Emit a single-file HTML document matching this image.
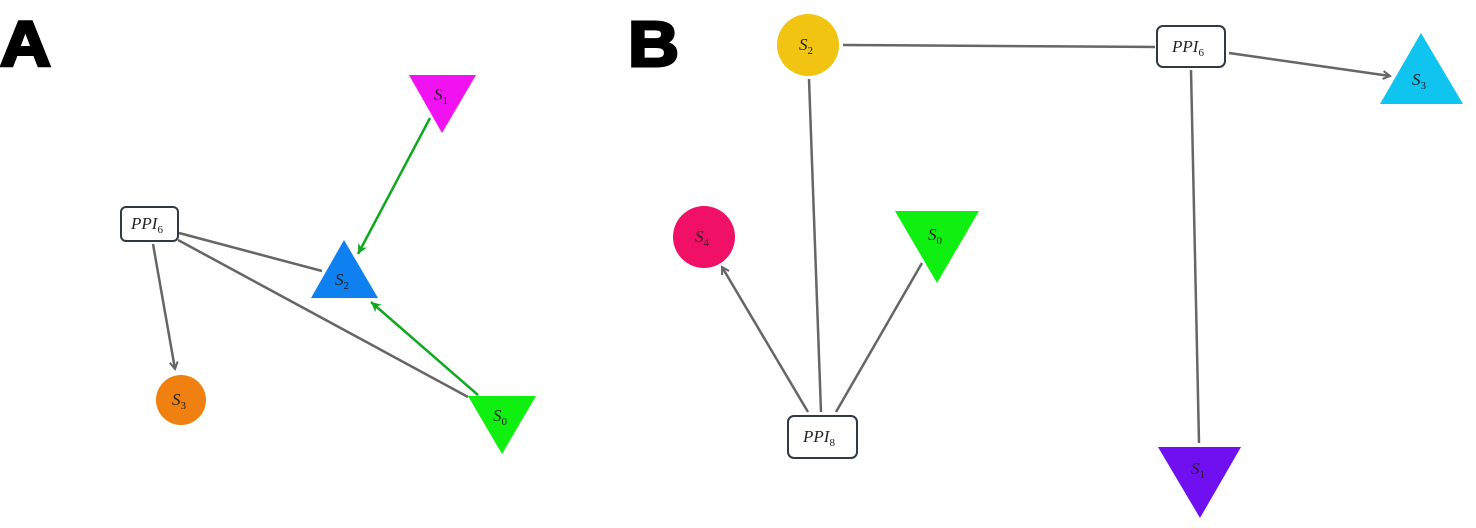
<!DOCTYPE html>
<html><head><style>body{margin:0;background:#fff}svg{display:block}
.l{font-family:"Liberation Serif",serif;font-style:italic;font-size:17px;fill:#222}
.s{font-size:11px;font-style:normal}
</style></head><body>
<svg width="1476" height="528" viewBox="0 0 1476 528" xmlns="http://www.w3.org/2000/svg">
<defs>
<marker id="ag" markerWidth="10" markerHeight="10" refX="8" refY="5" orient="auto" markerUnits="userSpaceOnUse"><path d="M1,1 L8,5 L1,9" fill="none" stroke="#666" stroke-width="2"/></marker>
<marker id="agr" markerWidth="12" markerHeight="12" refX="10" refY="6" orient="auto" markerUnits="userSpaceOnUse"><path d="M0,1 L10,6 L0,11 L3,6 Z" fill="#10a820"/></marker>
</defs>
<text x="0" y="66" transform="translate(0,0) scale(1.1,1)" font-family="Liberation Sans,sans-serif" font-weight="bold" font-size="64" stroke="#000" stroke-width="3">A</text>
<text x="571" y="66" transform="scale(1.1,1)" font-family="Liberation Sans,sans-serif" font-weight="bold" font-size="64" stroke="#000" stroke-width="3">B</text>
<g stroke="#666" stroke-width="2.5" fill="none">
<line x1="179" y1="233" x2="322" y2="271"/>
<line x1="178" y1="240" x2="468" y2="397"/>
<line x1="153" y1="244" x2="175" y2="369" marker-end="url(#ag)"/>
<line x1="843" y1="45" x2="1155" y2="47"/>
<line x1="1229" y1="53" x2="1390" y2="76" marker-end="url(#ag)"/>
<line x1="1191" y1="70" x2="1199" y2="443"/>
<line x1="809" y1="79" x2="821" y2="412"/>
<line x1="808" y1="412" x2="722" y2="267" marker-end="url(#ag)"/>
<line x1="836" y1="412" x2="922" y2="263"/>
</g>
<g stroke="#10a820" stroke-width="2.5">
<line x1="430" y1="118" x2="358" y2="254" marker-end="url(#agr)"/>
<line x1="478" y1="395" x2="371" y2="302" marker-end="url(#agr)"/>
</g>
<polygon points="409,75 476,75 442,133" fill="#f012f0"/>
<polygon points="344,240 378,298 311,298" fill="#0f80f0"/>
<polygon points="468,396 536,396 502,454" fill="#10f010"/>
<circle cx="181" cy="400" r="25" fill="#f08010"/>
<rect x="121" y="207" width="57" height="34" rx="5" fill="#fff" stroke="#2f3a45" stroke-width="2"/>
<circle cx="808" cy="45" r="31" fill="#f0c410"/>
<rect x="1157" y="26" width="68" height="41" rx="6" fill="#fff" stroke="#2f3a45" stroke-width="2"/>
<polygon points="1421,33 1463,104 1380,104" fill="#10c4f0"/>
<circle cx="704" cy="237" r="31" fill="#f01066"/>
<polygon points="895,211 979,211 937,283" fill="#10f010"/>
<rect x="788" y="416" width="69" height="42" rx="6" fill="#fff" stroke="#2f3a45" stroke-width="2"/>
<polygon points="1158,447 1241,447 1200,518" fill="#7010f0"/>
<g class="l">
<text x="434" y="100">S<tspan class="s" dy="4">1</tspan></text>
<text x="335" y="285">S<tspan class="s" dy="4">2</tspan></text>
<text x="493" y="421">S<tspan class="s" dy="4">0</tspan></text>
<text x="172" y="405">S<tspan class="s" dy="4">3</tspan></text>
<text x="131" y="229">PPI<tspan class="s" dy="4">6</tspan></text>
<text x="799" y="50">S<tspan class="s" dy="4">2</tspan></text>
<text x="1172" y="52">PPI<tspan class="s" dy="4">6</tspan></text>
<text x="1412" y="85">S<tspan class="s" dy="4">3</tspan></text>
<text x="695" y="242">S<tspan class="s" dy="4">4</tspan></text>
<text x="928" y="240">S<tspan class="s" dy="4">0</tspan></text>
<text x="803" y="442">PPI<tspan class="s" dy="4">8</tspan></text>
<text x="1191" y="474">S<tspan class="s" dy="4">1</tspan></text>
</g>
</svg>
</body></html>
